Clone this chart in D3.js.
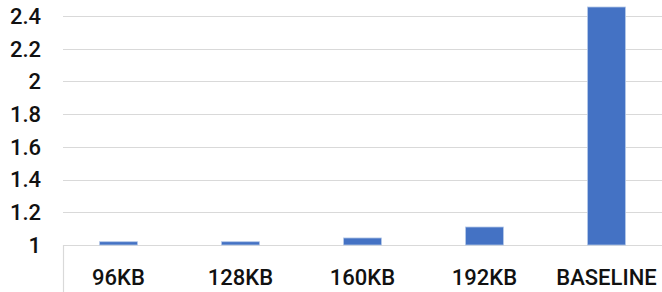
<!DOCTYPE html>
<html>
  <head>
    <script src="https://cdn.jsdelivr.net/npm/d3@7/dist/d3.min.js"></script>
    <style>
      body { margin: 0; background: #fff; }
      text { font-family: Roboto, "DejaVu Sans Condensed", sans-serif; fill: #111; }
    </style>
  </head>
  <body>
    <svg width="662" height="292" id="mainsvg"></svg>
    <script>
        const categories = ['96KB', '128KB', '160KB', '192KB', 'BASELINE'];
        const values = [1.02, 1.02, 1.043, 1.11, 2.455];
        const yTicks = [1, 1.2, 1.4, 1.6, 1.8, 2, 2.2, 2.4];

        const svg = d3.select('#mainsvg');
        const width = +svg.attr('width');
        const height = +svg.attr('height');

        // y: 1 at baseline row, 2.4 near the top
        const yScale = d3.scaleLinear()
        .domain([1, 2.4])
        .range([245, 16]);

        const xScale = d3.scaleBand()
        .domain(categories)
        .range([57.5, 667.5])
        .paddingInner(0.69)
        .paddingOuter(0.345);

        // gridlines
        svg.append('g').selectAll('line').data(yTicks).join('line')
        .attr('x1', 63).attr('x2', width)
        .attr('y1', d => Math.round(yScale(d)) + 0.5)
        .attr('y2', d => Math.round(yScale(d)) + 0.5)
        .attr('stroke', '#d9d9d9')
        .attr('stroke-width', 1.2);

        // left border of the category row
        svg.append('line')
        .attr('x1', 63.5).attr('x2', 63.5)
        .attr('y1', yScale(1)).attr('y2', height)
        .attr('stroke', '#d9d9d9').attr('stroke-width', 1.2);

        // y tick labels
        svg.append('g').selectAll('text').data(yTicks).join('text')
        .attr('x', 41)
        .attr('y', d => yScale(d))
        .attr('dy', '0.36em')
        .attr('text-anchor', 'end')
        .attr('font-size', 22)
        .attr('font-weight', 500)
        .text(d => d);

        // bars
        svg.append('g').selectAll('rect').data(values).join('rect')
        .attr('x', (d, i) => xScale(categories[i]))
        .attr('width', xScale.bandwidth())
        .attr('y', d => yScale(d))
        .attr('height', d => yScale(1) - yScale(d))
        .attr('fill', '#4472c4')
        .attr('stroke', '#b4c7e7')
        .attr('stroke-width', 0.8);

        // category labels
        svg.append('g').selectAll('text').data(categories).join('text')
        .attr('x', d => xScale(d) + xScale.bandwidth() / 2)
        .attr('y', 285)
        .attr('text-anchor', 'middle')
        .attr('font-size', 22)
        .attr('font-weight', 500)
        .text(d => d);
    </script>
  </body>
</html>
